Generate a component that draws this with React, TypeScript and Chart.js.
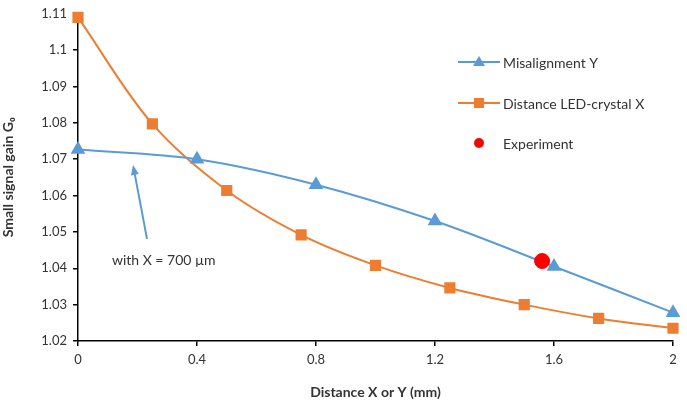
import React, { useEffect, useRef } from "react";
import { Chart, registerables } from "chart.js";
Chart.register(...registerables);

const misalignX = [0, 0.4, 0.8, 1.2, 1.6, 2];
const misalignY = [1.0727, 1.07, 1.063, 1.053, 1.0405, 1.0278];
const distanceX = [0, 0.25, 0.5, 0.75, 1.0, 1.25, 1.5, 1.75, 2];
const distanceY = [1.109, 1.0797, 1.0614, 1.0492, 1.0408, 1.0346, 1.03, 1.0262, 1.0235];
const experimentX = [1.56];
const experimentY = [1.042];
const legendLabels = ["Misalignment Y", "Distance LED-crystal X", "Experiment"];
const annotationText = "with X = 700 µm";
const arrowFrom = { x: 0.232, y: 1.0481 };
const arrowTo = { x: 0.185, y: 1.0684 };
const textAt = { x: 0.114, y: 1.0422 };

const BLUE = "#5B9BD5";
const ORANGE = "#ED7D31";
const RED = "#FF0000";
const TEXT = "#333";
const FONT = "Lato, 'Open Sans', sans-serif";

const fmt = (v: any) => String(Number(Number(v).toFixed(2)));

const extrasPlugin = {
  id: "extras",
  afterDatasetsDraw(chart: any) {
    const ctx = chart.ctx;
    const xs = chart.scales.x;
    const ys = chart.scales.y;
    ctx.save();
    const x1 = xs.getPixelForValue(arrowFrom.x), y1 = ys.getPixelForValue(arrowFrom.y);
    const x2 = xs.getPixelForValue(arrowTo.x), y2 = ys.getPixelForValue(arrowTo.y);
    ctx.strokeStyle = BLUE;
    ctx.fillStyle = BLUE;
    ctx.lineWidth = 2;
    const ang = Math.atan2(y2 - y1, x2 - x1);
    const hl = 10;
    ctx.beginPath();
    ctx.moveTo(x1, y1);
    ctx.lineTo(x2 - Math.cos(ang) * hl * 0.8, y2 - Math.sin(ang) * hl * 0.8);
    ctx.stroke();
    ctx.beginPath();
    ctx.moveTo(x2, y2);
    ctx.lineTo(x2 - hl * Math.cos(ang) + 4 * Math.sin(ang), y2 - hl * Math.sin(ang) - 4 * Math.cos(ang));
    ctx.lineTo(x2 - hl * Math.cos(ang) - 4 * Math.sin(ang), y2 - hl * Math.sin(ang) + 4 * Math.cos(ang));
    ctx.closePath();
    ctx.fill();
    ctx.fillStyle = TEXT;
    ctx.font = `14px ${FONT}`;
    ctx.textBaseline = "middle";
    ctx.textAlign = "left";
    ctx.fillText(annotationText, xs.getPixelForValue(textAt.x), ys.getPixelForValue(textAt.y));
    const lx = chart.chartArea.left + 380;
    const rows = [62, 103, 143];
    const colors = [BLUE, ORANGE, RED];
    rows.forEach((ry, i) => {
      ctx.strokeStyle = colors[i];
      ctx.fillStyle = colors[i];
      if (i < 2) {
        ctx.lineWidth = 2;
        ctx.beginPath();
        ctx.moveTo(lx, ry);
        ctx.lineTo(lx + 42, ry);
        ctx.stroke();
      }
      const cx = lx + 21;
      ctx.beginPath();
      if (i === 0) {
        ctx.moveTo(cx, ry - 6);
        ctx.lineTo(cx + 6, ry + 4);
        ctx.lineTo(cx - 6, ry + 4);
        ctx.closePath();
      } else if (i === 1) {
        ctx.rect(cx - 5, ry - 5, 10, 10);
      } else {
        ctx.arc(cx, ry, 5, 0, Math.PI * 2);
      }
      ctx.fill();
      ctx.fillStyle = TEXT;
      ctx.font = `14px ${FONT}`;
      ctx.fillText(legendLabels[i], lx + 45, ry + 1);
    });
    ctx.restore();
  },
};

export default function App() {
  const ref = useRef<HTMLCanvasElement>(null);
  useEffect(() => {
    document.body.style.margin = "0";
    const chart = new Chart(ref.current!, {
      type: "scatter",
      data: {
        datasets: [
          {
            label: legendLabels[2],
            data: experimentX.map((x, i) => ({ x, y: experimentY[i] })),
            backgroundColor: RED,
            borderColor: RED,
            pointRadius: 7.5,
            pointStyle: "circle",
            showLine: false,
            clip: false,
            order: 0,
          },
          {
            label: legendLabels[0],
            data: misalignX.map((x, i) => ({ x, y: misalignY[i] })),
            borderColor: BLUE,
            backgroundColor: BLUE,
            borderWidth: 2,
            showLine: true,
            tension: 0.35,
            pointStyle: "triangle",
            pointRadius: 6.5,
            clip: false,
            order: 1,
          },
          {
            label: legendLabels[1],
            data: distanceX.map((x, i) => ({ x, y: distanceY[i] })),
            borderColor: ORANGE,
            backgroundColor: ORANGE,
            borderWidth: 2,
            showLine: true,
            tension: 0.35,
            pointStyle: "rect",
            pointRadius: 6.5,
            clip: false,
            order: 2,
          },
        ],
      },
      options: {
        animation: false,
        responsive: false,
        maintainAspectRatio: false,
        layout: { padding: { top: 8, right: 14, left: 0, bottom: 0 } },
        plugins: { legend: { display: false }, tooltip: { enabled: false } },
        scales: {
          x: {
            type: "linear",
            min: 0,
            max: 2,
            border: { color: "#000", width: 1.5 },
            grid: { display: true, drawOnChartArea: false, color: "#000", tickLength: 5, lineWidth: 1.5 },
            ticks: { stepSize: 0.4, color: TEXT, font: { family: FONT, size: 13 }, padding: 6, callback: fmt },
            title: {
              display: true,
              text: "Distance X or Y (mm)",
              color: TEXT,
              font: { family: FONT, size: 14, weight: "bold" },
              padding: { top: 6, bottom: 0 },
            },
            afterFit: (s: any) => { s.height = 60; },
          },
          y: {
            type: "linear",
            min: 1.02,
            max: 1.11,
            border: { color: "#000", width: 1.5 },
            grid: { display: true, drawOnChartArea: false, color: "#000", tickLength: 5, lineWidth: 1.5 },
            ticks: { stepSize: 0.01, color: TEXT, font: { family: FONT, size: 13 }, padding: 6, callback: fmt },
            title: {
              display: true,
              text: "Small signal gain G₀",
              color: TEXT,
              font: { family: FONT, size: 14, weight: "bold" },
              padding: { top: 0, bottom: 2 },
            },
            afterFit: (s: any) => { s.width = 78; },
          },
        },
      },
      plugins: [extrasPlugin],
    } as any);
    return () => chart.destroy();
  }, []);
  return (
    <div style={{ position: "absolute", left: 0, top: 0, width: 687, height: 401 }}>
      <canvas ref={ref} width={687} height={401} style={{ width: 687, height: 401 }} />
    </div>
  );
}
